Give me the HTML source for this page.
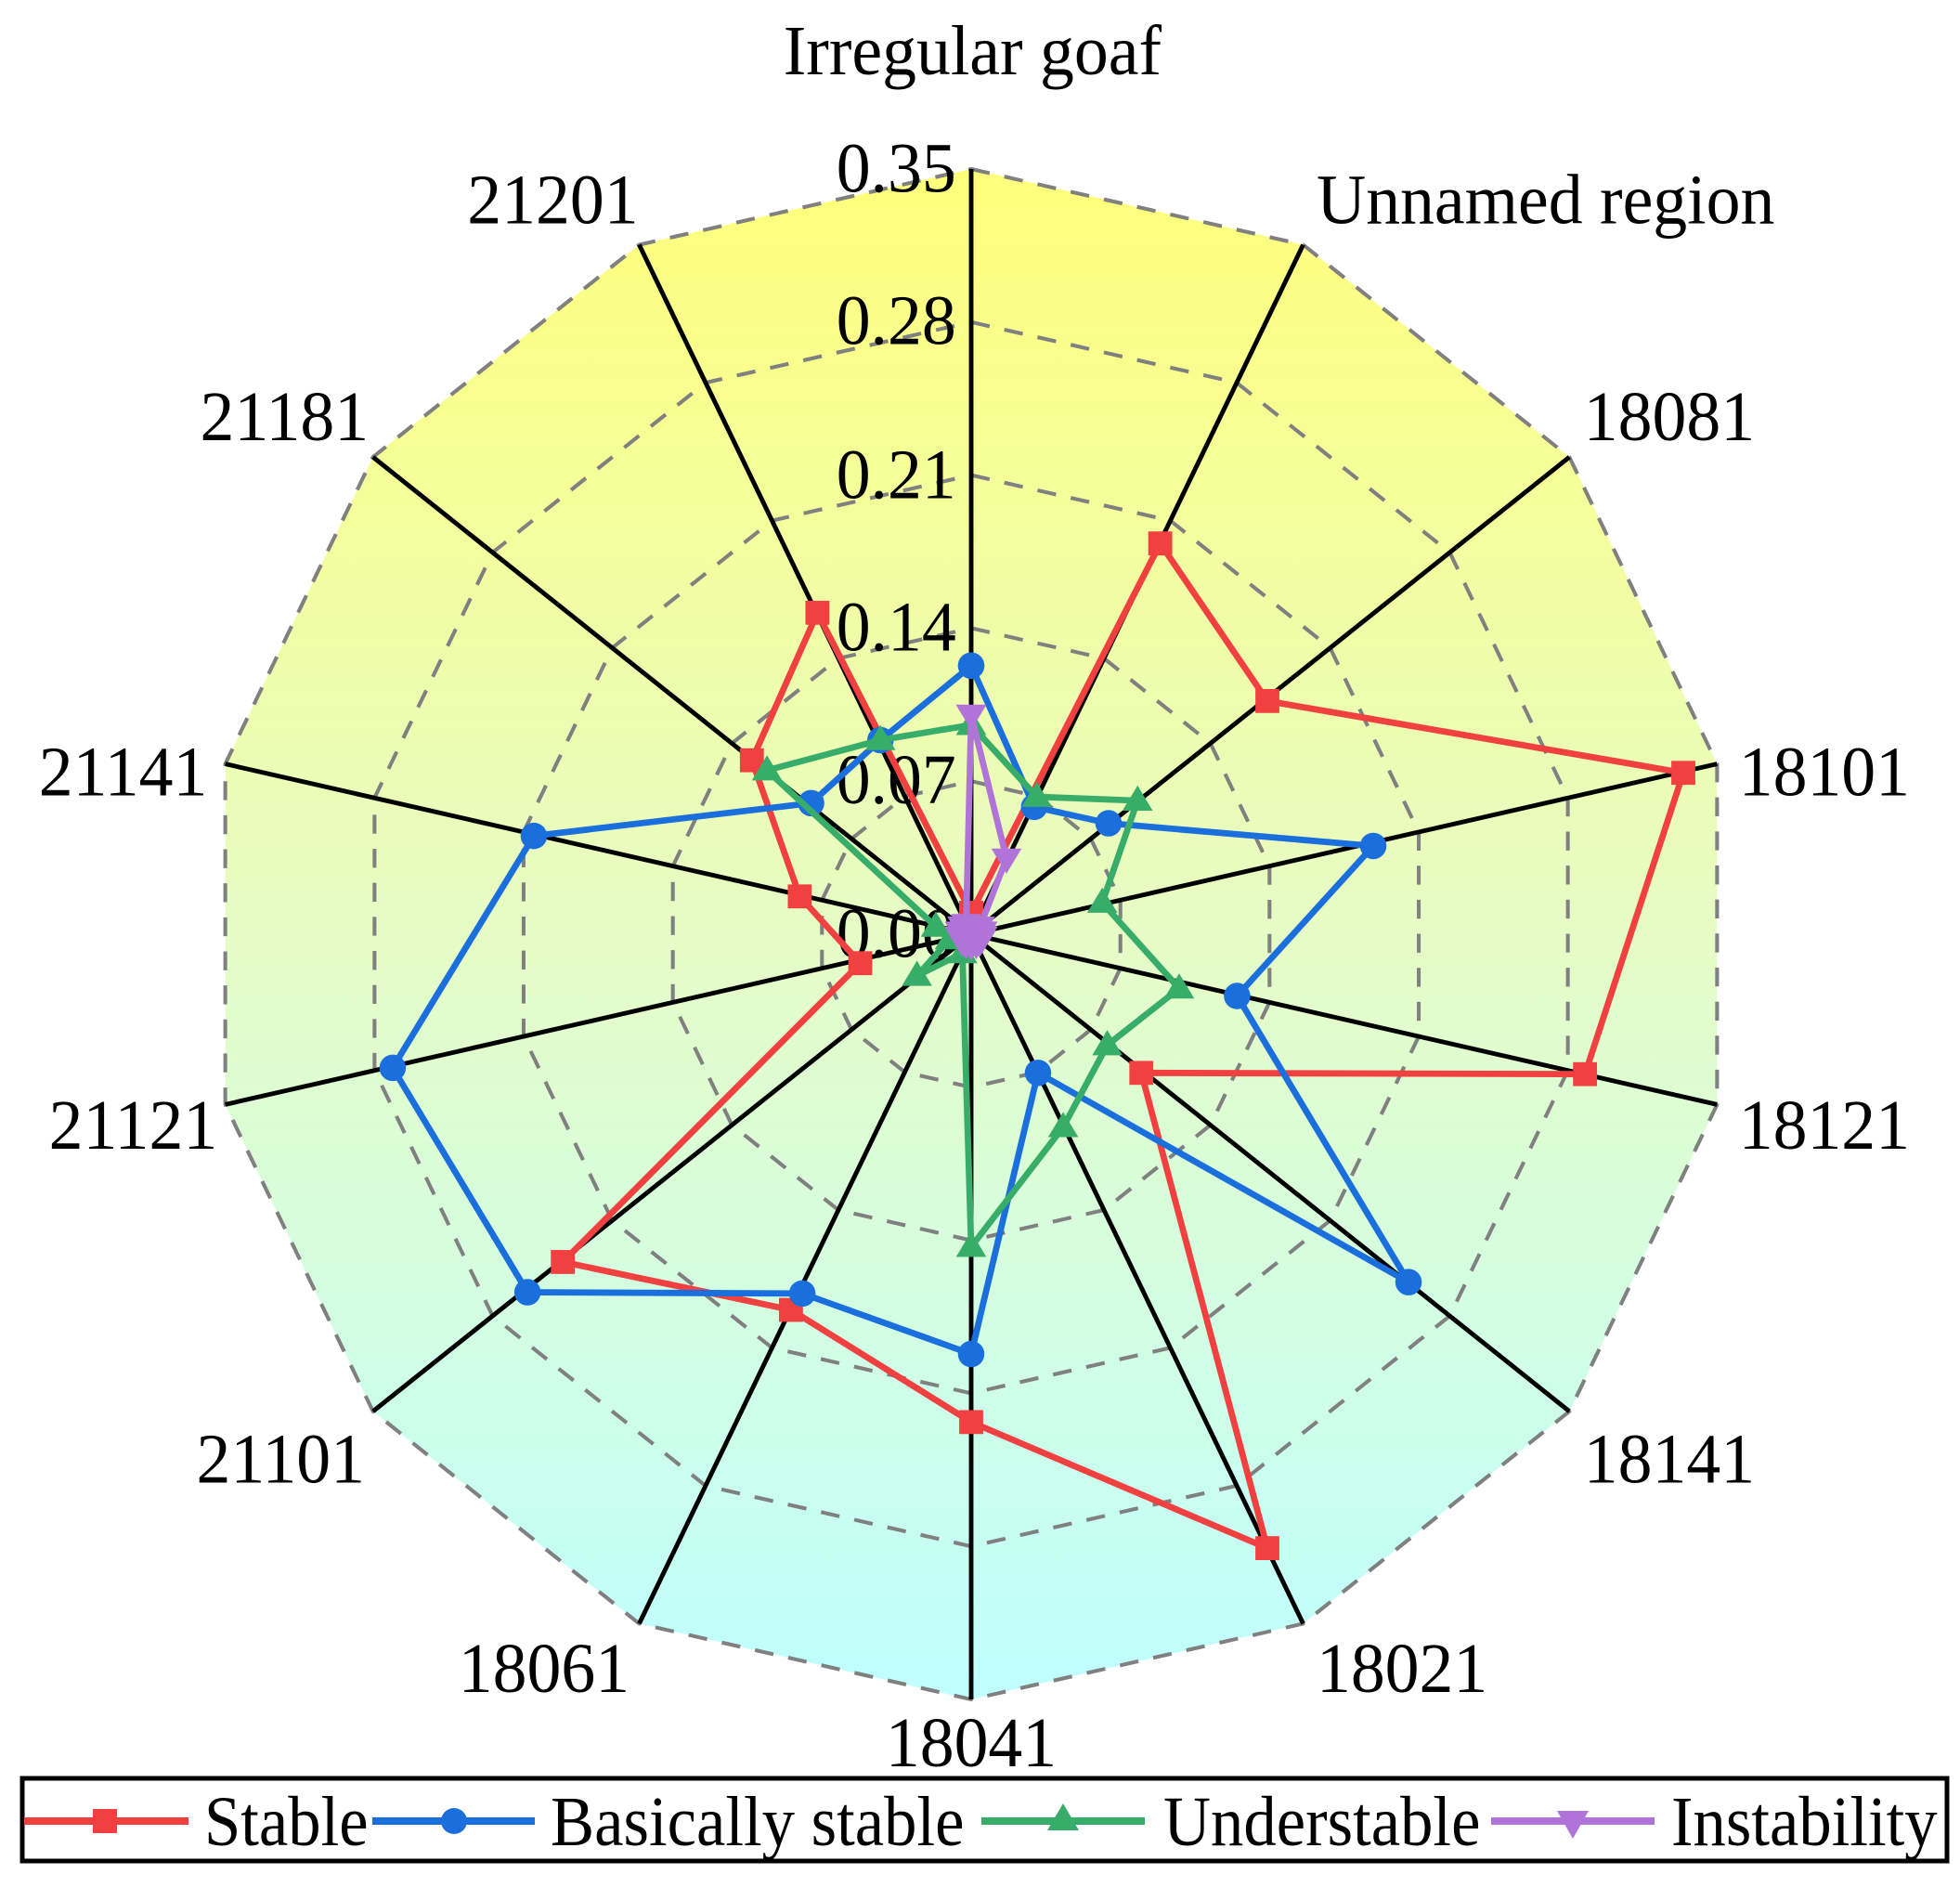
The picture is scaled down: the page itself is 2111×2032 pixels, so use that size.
<!DOCTYPE html>
<html><head><meta charset="utf-8"><style>
html,body{margin:0;padding:0;background:#fff;}
svg{display:block;}
text{font-family:"Liberation Serif",serif;fill:#000;}
</style></head><body>
<svg width="2111" height="2032" viewBox="0 0 2111 2032" xmlns="http://www.w3.org/2000/svg">
<defs>
<linearGradient id="bg" x1="0" y1="135" x2="0" y2="1349" gradientUnits="userSpaceOnUse">
<stop offset="0" stop-color="#ffff7a"/><stop offset="0.5" stop-color="#e6fcc6"/><stop offset="1" stop-color="#bfffff"/>
</linearGradient>
<marker id="mr" markerUnits="userSpaceOnUse" markerWidth="24" markerHeight="24" refX="12" refY="12" overflow="visible"><rect x="2.5" y="2.5" width="19" height="19" fill="#f04040"/></marker>
<marker id="mb" markerUnits="userSpaceOnUse" markerWidth="24" markerHeight="24" refX="12" refY="12" overflow="visible"><circle cx="12" cy="12" r="10.5" fill="#1a6fdc"/></marker>
<marker id="mg" markerUnits="userSpaceOnUse" markerWidth="24" markerHeight="24" refX="12" refY="12" overflow="visible"><polygon points="12,0 24,20 0,20" fill="#38ad6a"/></marker>
<marker id="mp" markerUnits="userSpaceOnUse" markerWidth="24" markerHeight="24" refX="12" refY="12" overflow="visible"><polygon points="0,4 24,4 12,24" fill="#b074d8"/></marker>
</defs>
<g transform="translate(1046,1006) scale(1.3575) translate(-776,-742)">
<polygon points="776,135 1039.4,195.1 1250.6,363.5 1367.8,606.9 1367.8,877.1 1250.6,1120.5 1039.4,1288.9 776,1349 512.6,1288.9 301.4,1120.5 184.2,877.1 184.2,606.9 301.4,363.5 512.6,195.1" fill="url(#bg)"/>
<g fill="none" stroke="#808080" stroke-width="3" stroke-dasharray="15,12">
<polygon points="776,620.6 828.7,632.6 870.9,666.3 894.4,715 894.4,769 870.9,817.7 828.7,851.4 776,863.4 723.3,851.4 681.1,817.7 657.6,769 657.6,715 681.1,666.3 723.3,632.6"/>
<polygon points="776,499.2 881.4,523.2 965.8,590.6 1012.7,688 1012.7,796 965.8,893.4 881.4,960.8 776,984.8 670.6,960.8 586.2,893.4 539.3,796 539.3,688 586.2,590.6 670.6,523.2"/>
<polygon points="776,377.8 934,413.9 1060.8,514.9 1131.1,660.9 1131.1,823.1 1060.8,969.1 934,1070.1 776,1106.2 618,1070.1 491.2,969.1 420.9,823.1 420.9,660.9 491.2,514.9 618,413.9"/>
<polygon points="776,256.4 986.7,304.5 1155.7,439.2 1249.4,633.9 1249.4,850.1 1155.7,1044.8 986.7,1179.5 776,1227.6 565.3,1179.5 396.3,1044.8 302.6,850.1 302.6,633.9 396.3,439.2 565.3,304.5"/>
<polygon points="776,135 1039.4,195.1 1250.6,363.5 1367.8,606.9 1367.8,877.1 1250.6,1120.5 1039.4,1288.9 776,1349 512.6,1288.9 301.4,1120.5 184.2,877.1 184.2,606.9 301.4,363.5 512.6,195.1"/>
</g>
<g stroke="#000" stroke-width="3.6">
<line x1="776" y1="742" x2="776" y2="135"/><line x1="776" y1="742" x2="1039.4" y2="195.1"/><line x1="776" y1="742" x2="1250.6" y2="363.5"/><line x1="776" y1="742" x2="1367.8" y2="606.9"/><line x1="776" y1="742" x2="1367.8" y2="877.1"/><line x1="776" y1="742" x2="1250.6" y2="1120.5"/><line x1="776" y1="742" x2="1039.4" y2="1288.9"/><line x1="776" y1="742" x2="776" y2="1349"/><line x1="776" y1="742" x2="512.6" y2="1288.9"/><line x1="776" y1="742" x2="301.4" y2="1120.5"/><line x1="776" y1="742" x2="184.2" y2="877.1"/><line x1="776" y1="742" x2="184.2" y2="606.9"/><line x1="776" y1="742" x2="301.4" y2="363.5"/><line x1="776" y1="742" x2="512.6" y2="195.1"/>
</g>
<g font-size="56" text-anchor="end">
<text transform="translate(764,153) scale(0.97,1)">0.35</text>
<text transform="translate(764,274) scale(0.97,1)">0.28</text>
<text transform="translate(764,396) scale(0.97,1)">0.21</text>
<text transform="translate(764,517) scale(0.97,1)">0.14</text>
<text transform="translate(764,638) scale(0.97,1)">0.07</text>
<text transform="translate(764,760) scale(0.97,1)">0.00</text>
</g>
<g font-size="56">
<text text-anchor="middle" transform="translate(777,60) scale(0.97,1)">Irregular goaf</text>
<text transform="translate(1050,178) scale(0.97,1)">Unnamed region</text>
<text transform="translate(1262,350) scale(0.97,1)">18081</text>
<text transform="translate(1385,632) scale(0.97,1)">18101</text>
<text transform="translate(1385,912) scale(0.97,1)">18121</text>
<text transform="translate(1262,1177) scale(0.97,1)">18141</text>
<text transform="translate(1050,1343) scale(0.97,1)">18021</text>
<text text-anchor="middle" transform="translate(776,1402) scale(0.97,1)">18041</text>
<text text-anchor="end" transform="translate(505,1343) scale(0.97,1)">18061</text>
<text text-anchor="end" transform="translate(295,1177) scale(0.97,1)">21101</text>
<text text-anchor="end" transform="translate(178,912) scale(0.97,1)">21121</text>
<text text-anchor="end" transform="translate(170,632) scale(0.97,1)">21141</text>
<text text-anchor="end" transform="translate(298,350) scale(0.97,1)">21181</text>
<text text-anchor="end" transform="translate(512,178) scale(0.97,1)">21201</text>
</g>
<g fill="none" stroke-width="5" stroke-linejoin="round">
<polygon stroke="#f04040" marker-start="url(#mr)" marker-mid="url(#mr)" marker-end="url(#mr)" points="776,725 926,432 1011,557 1341,614 1263,853 911,852 1011,1229 776,1129 633,1040 452,1002 688,765 640,712 602,604 654,487"/>
<polygon stroke="#1a6fdc" marker-start="url(#mb)" marker-mid="url(#mb)" marker-end="url(#mb)" points="776,529 826,641 885,654 1095,672 987,791 1123,1018 829,852 776,1075 642,1027 424,1026 317,848 429,664 649,638 704,588"/>
<polygon stroke="#38ad6a" marker-start="url(#mg)" marker-mid="url(#mg)" marker-end="url(#mg)" points="776,576 828,633 908,636 880,717 941,785 884,830 849,895 776,990 769,757 733,775 759,746 748,736 614,612 704,588"/>
<polygon stroke="#b074d8" marker-start="url(#mp)" marker-mid="url(#mp)" marker-end="url(#mp)" points="776,568 804,682 783,736 785,740 785,744 783,748 780,750 776,751 772,750 769,748 767,744 767,740 769,736 772,734"/>
</g>
</g>
<rect x="24" y="1915" width="2073" height="89" fill="none" stroke="#000" stroke-width="5"/>
<g stroke-width="8">
<line x1="26" y1="1961" x2="203" y2="1961" stroke="#f04040"/><rect x="100" y="1948" width="26" height="26" fill="#f04040"/>
<line x1="401" y1="1961" x2="576" y2="1961" stroke="#1a6fdc"/><circle cx="489" cy="1961" r="14" fill="#1a6fdc"/>
<line x1="1057" y1="1961" x2="1233" y2="1961" stroke="#38ad6a"/><polygon points="1145,1942 1162,1971 1128,1971" fill="#38ad6a"/>
<line x1="1606" y1="1961" x2="1782" y2="1961" stroke="#b074d8"/><polygon points="1677,1950 1711,1950 1694,1980" fill="#b074d8"/>
</g>
<g font-size="76">
<text transform="translate(220,1987) scale(0.93,1)">Stable</text>
<text transform="translate(593,1987) scale(0.93,1)">Basically stable</text>
<text transform="translate(1253,1987) scale(0.93,1)">Understable</text>
<text transform="translate(1800,1987) scale(0.93,1)">Instability</text>
</g>
</svg>
</body></html>
